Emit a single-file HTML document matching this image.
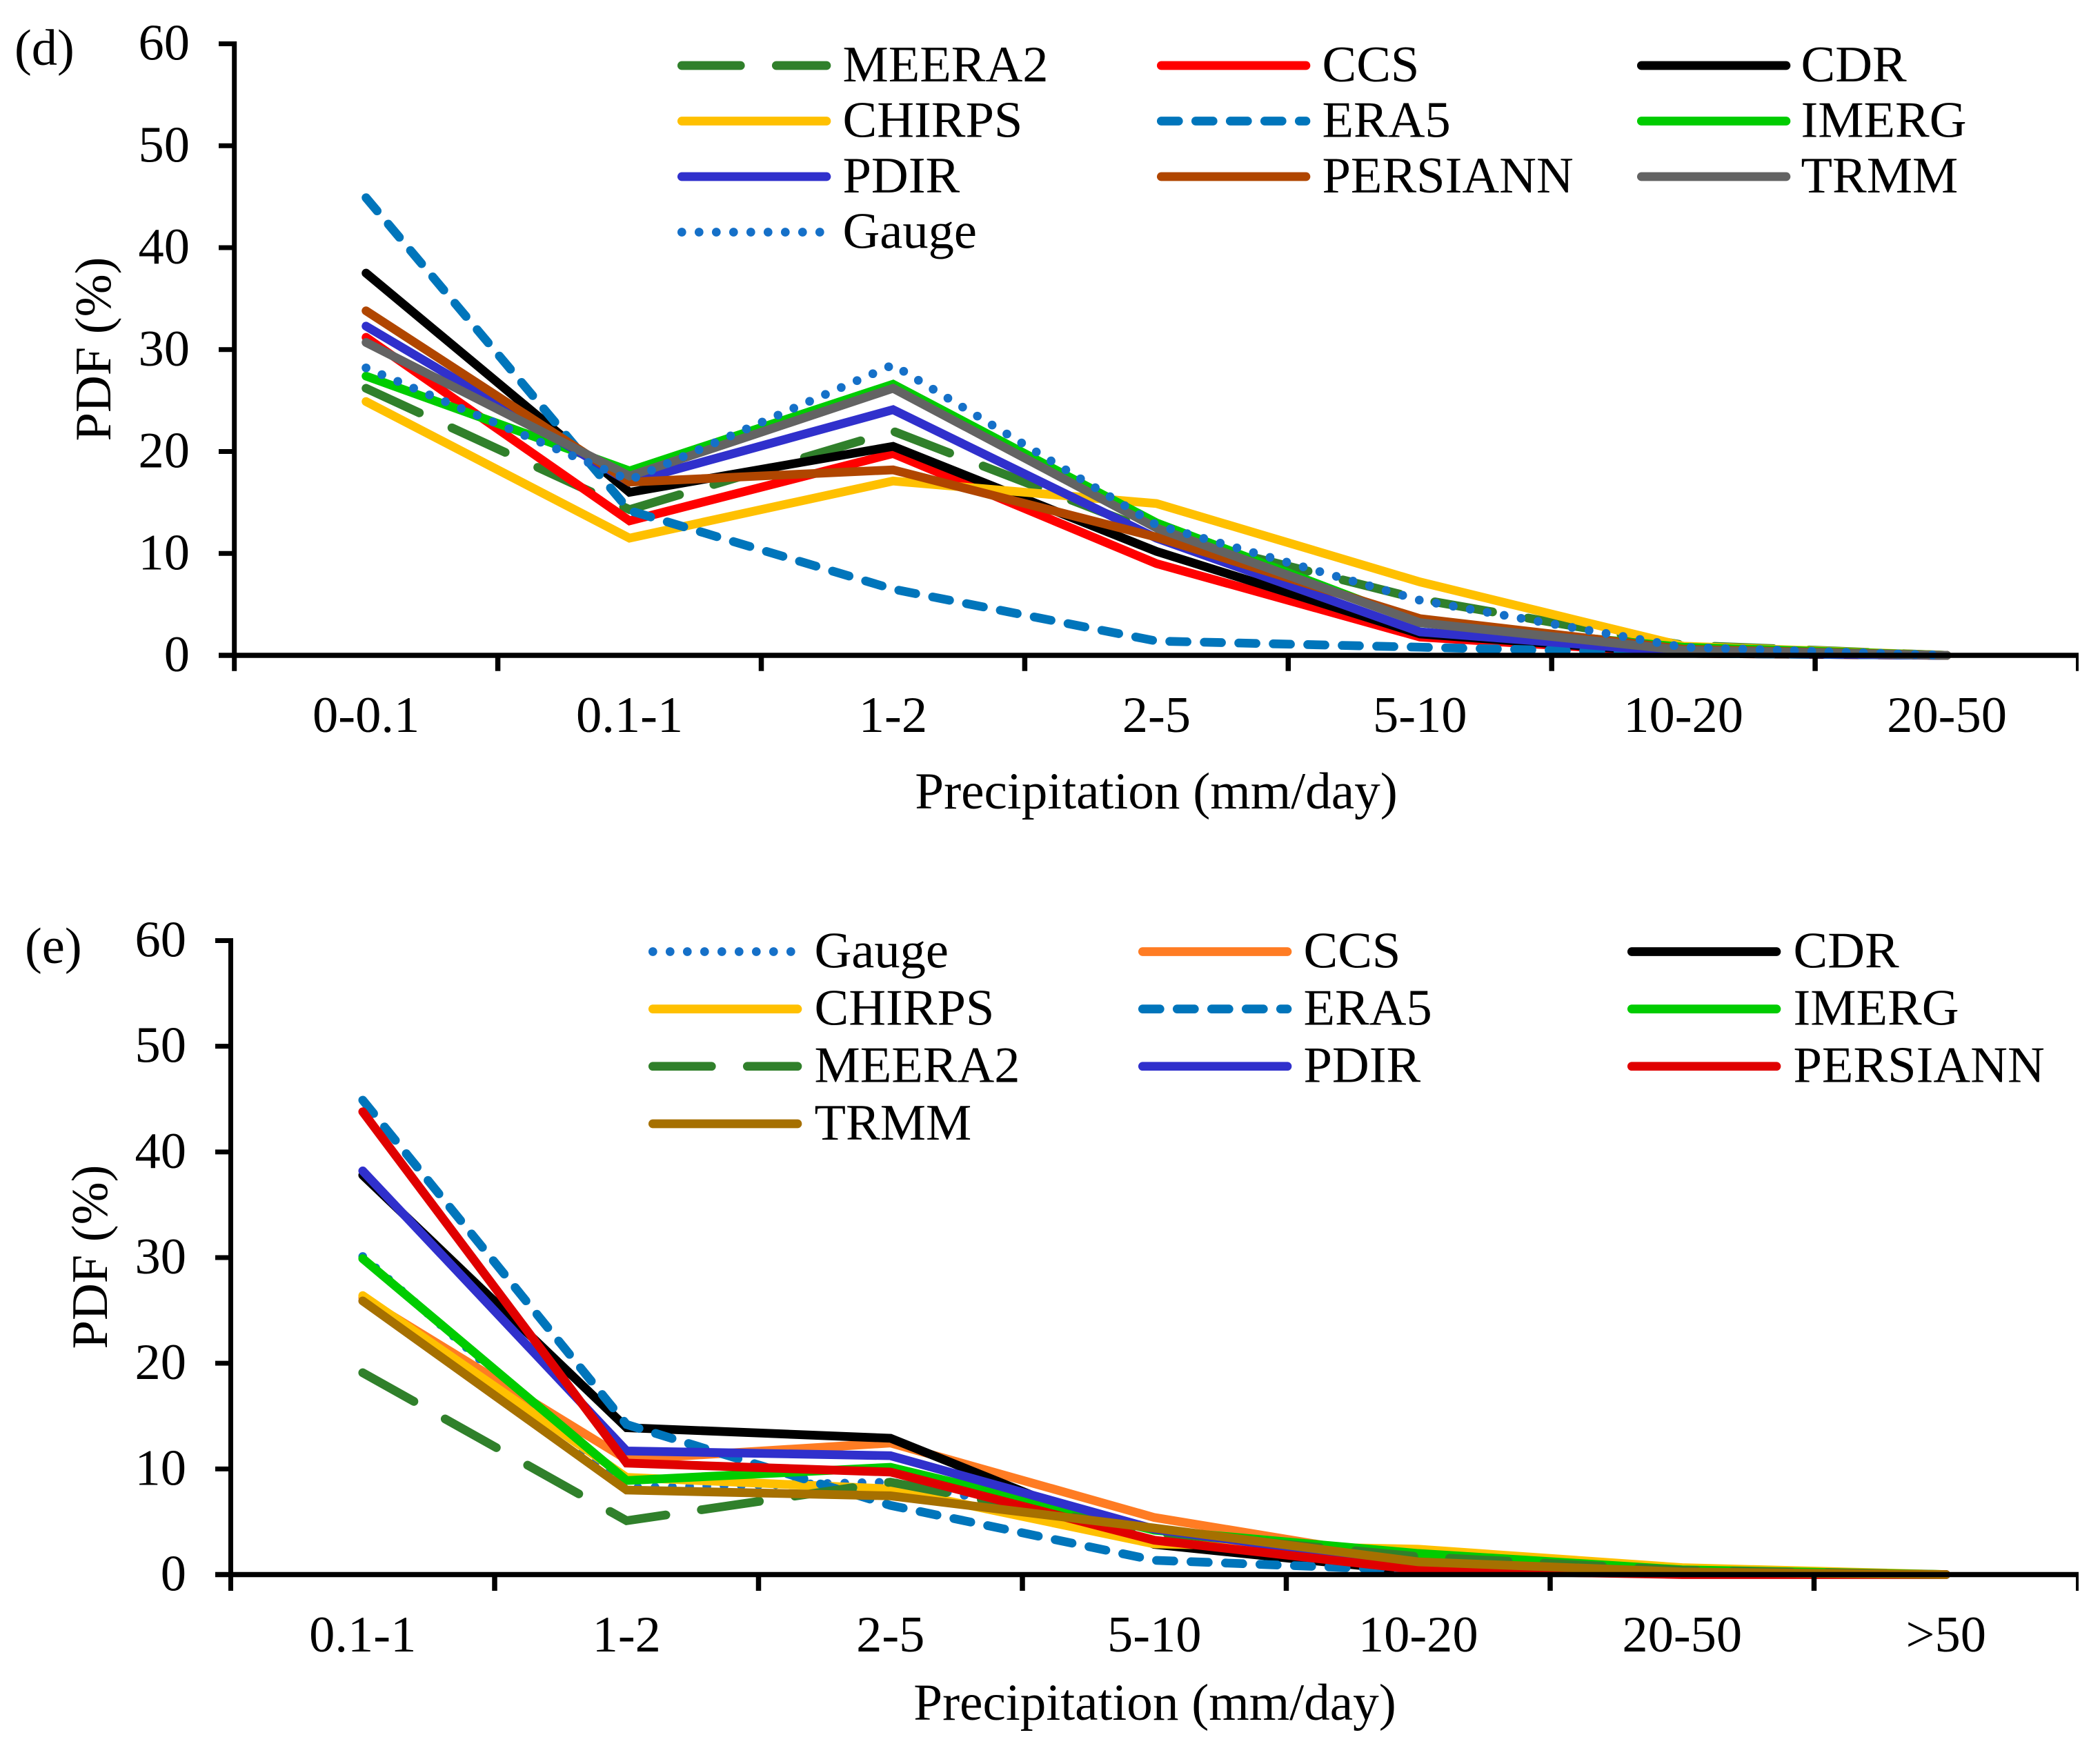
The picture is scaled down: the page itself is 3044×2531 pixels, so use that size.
<!DOCTYPE html>
<html lang="en">
<head>
<meta charset="utf-8">
<title>PDF of precipitation panels (d) and (e)</title>
<style>
html,body{margin:0;padding:0;background:#fff;}
svg{display:block;}
text{font-family:"Liberation Serif","Times New Roman",serif;fill:#000;font-size:74.5px;}
text.axis-title{font-size:75.2px;}
</style>
</head>
<body>
<svg id="chart" xmlns="http://www.w3.org/2000/svg" width="3044" height="2531" viewBox="0 0 3044 2531"></svg>
<script>
// ---------- shared tick values ----------
const yTickLabels = [0, 10, 20, 30, 40, 50, 60];

// ---------- panel (d) data ----------
const categoriesD = ["0-0.1", "0.1-1", "1-2", "2-5", "5-10", "10-20", "20-50"];
const meera2D   = [26.2, 14.3, 22.0, 12.0, 5.5, 1.0, 0];
const ccsD      = [31.2, 13.2, 19.8, 9.0, 1.8, 0.2, 0];
const cdrD      = [37.5, 16.0, 20.5, 10.2, 2.1, 0.2, 0];
const chirpsD   = [24.9, 11.5, 17.1, 14.9, 7.2, 0.9, 0];
const era5D     = [44.9, 14.2, 6.5, 1.4, 0.8, 0.2, 0];
const imergD    = [27.4, 18.1, 26.6, 13.0, 3.2, 0.8, 0];
const pdirD     = [32.3, 17.0, 24.1, 11.5, 2.3, 0.3, 0];
const persiannD = [33.8, 17.0, 18.2, 11.6, 3.6, 0.6, 0];
const trmmD     = [30.7, 17.6, 26.2, 12.5, 3.2, 0.5, 0];
const gaugeD    = [28.2, 17.2, 28.5, 12.8, 5.4, 0.8, 0];

// ---------- panel (e) data ----------
const categoriesE = ["0.1-1", "1-2", "2-5", "5-10", "10-20", "20-50", ">50"];
const gaugeE    = [30.1, 8.2, 8.75, 4.3, 1.7, 0.2, 0];
const ccsE      = [26.2, 10.9, 12.45, 5.4, 1.3, 0.1, 0];
const cdrE      = [37.8, 13.9, 12.9, 2.85, 0.3, 0.1, 0];
const chirpsE   = [26.4, 9.2, 8.1, 2.9, 2.4, 0.65, 0];
const era5E     = [44.9, 14.2, 6.55, 1.35, 0.4, 0.1, 0];
const imergE    = [29.9, 8.9, 10.15, 4.2, 2.0, 0.45, 0];
const meera2E   = [19.1, 5.1, 8.75, 4.0, 1.7, 0.4, 0];
const pdirE     = [38.2, 11.7, 11.25, 4.3, 0.9, 0.1, 0];
const persiannE = [43.8, 10.55, 9.7, 3.25, 0.45, 0, 0];
const trmmE     = [25.9, 8.0, 7.45, 4.4, 1.2, 0.25, 0];

// ---------- styles (dash patterns and colours) ----------
const LW = 12.7;
const DOT = "0 25";
const SHORT = "25 25";
const LONG = "85 52";

const svg = document.getElementById('chart');
const NS = 'http://www.w3.org/2000/svg';

function mk(tag, attrs, parent) {
  const el = document.createElementNS(NS, tag);
  for (const k in attrs) el.setAttribute(k, attrs[k]);
  parent.appendChild(el);
  return el;
}

function slug(s) { return s.toLowerCase().replace(/[^a-z0-9]+/g, '-'); }

function drawPanel(p) {
  const g = mk('g', {}, svg);
  
  

  const n = p.categories.length;
  const xTick = k => p.x0 + k * p.step;
  const xScale = i => p.x0 + (i + 0.5) * p.step;
  const yScale = v => p.y0 - v * p.unit;

  // panel label
  const lab = mk('text', {x: p.labelX, y: p.labelY}, g);
  lab.textContent = '(' + p.id + ')';
  
  

  // series
  const sg = mk('g', {fill: 'none'}, g);
  
  
  p.series.forEach(s => {
    const d = s.values.map((v, i) => (i ? 'L' : 'M') + xScale(i).toFixed(1) + ' ' + yScale(v).toFixed(1)).join(' ');
    const path = mk('path', {
      d: d, stroke: s.color, 'stroke-width': LW, 'stroke-linecap': 'round',
      'stroke-linejoin': 'miter', 'stroke-miterlimit': 6, fill: 'none'
    }, sg);
    if (s.dash) path.setAttribute('stroke-dasharray', s.dash);
    
    
  });

  // axes
  const ag = mk('g', {stroke: '#000', fill: 'none'}, g);
  
  
  const yLine = mk('line', {x1: p.x0, x2: p.x0, y1: yScale(60) - 3.5, y2: p.tickBottom, 'stroke-width': 7}, ag);
  
  
  const xLine = mk('line', {x1: p.tickLeft, x2: 3013, y1: p.y0, y2: p.y0, 'stroke-width': 7.5}, ag);
  
  

  yTickLabels.forEach(v => {
    const t = mk('line', {x1: p.tickLeft, x2: p.x0, y1: yScale(v), y2: yScale(v), 'stroke-width': 7}, ag);
    
    
    const l = mk('text', {x: p.yLabelX, y: yScale(v) + 23, 'text-anchor': 'end'}, g);
    l.textContent = String(v);
    
    
  });

  for (let k = 1; k <= n; k++) {
    const last = k === n;
    const x = last ? 3011 : xTick(k);
    const t = mk('line', {x1: x, x2: x, y1: p.y0, y2: p.tickBottom, 'stroke-width': last ? 4 : 7.5}, ag);
    
    
  }

  p.categories.forEach((c, i) => {
    const l = mk('text', {x: xScale(i), y: p.xLabelY, 'text-anchor': 'middle'}, g);
    l.textContent = c;
    
    
  });

  const xt = mk('text', {x: p.xTitleX, y: p.xTitleY, 'text-anchor': 'middle', class: 'axis-title'}, g);
  xt.textContent = 'Precipitation (mm/day)';
  
  

  const yt = mk('text', {
    'text-anchor': 'middle',
    transform: 'translate(' + p.yTitleX + ' ' + p.yTitleY + ') rotate(-90)'
  }, g);
  yt.textContent = 'PDF (%)';
  
  

  // legend (reading order, three columns)
  const lg = mk('g', {}, g);
  
  
  p.series.forEach((s, i) => {
    const col = i % 3, row = Math.floor(i / 3);
    const x = p.legendX[col], y = p.legendY[row];
    const e = mk('g', {}, lg);
    
    
    const sw = mk('line', {
      x1: x + 6.3, x2: x + 216, y1: y, y2: y, stroke: s.color,
      'stroke-width': LW, 'stroke-linecap': 'round'
    }, e);
    if (s.dash) sw.setAttribute('stroke-dasharray', s.dash);
    
    
    const tx = mk('text', {x: p.legendTextX[col], y: y + 23}, e);
    tx.textContent = s.name;
    
    
  });
}

drawPanel({
  id: 'd', categories: categoriesD,
  x0: 339.7, step: 381.9, y0: 950, unit: 14.775,
  tickLeft: 317, tickBottom: 972.7, yLabelX: 275, xLabelY: 1061,
  xTitleX: 1676, xTitleY: 1172, yTitleX: 160, yTitleY: 506,
  labelX: 21, labelY: 94,
  legendX: [982, 1677, 2373], legendTextX: [1221.5, 1916.5, 2610.5],
  legendY: [95, 175.5, 256, 336.5],
  series: [
    {name: 'MEERA2',   values: meera2D,   color: '#30802B', dash: LONG},
    {name: 'CCS',      values: ccsD,      color: '#FF0000'},
    {name: 'CDR',      values: cdrD,      color: '#000000'},
    {name: 'CHIRPS',   values: chirpsD,   color: '#FFC000'},
    {name: 'ERA5',     values: era5D,     color: '#0075BB', dash: SHORT},
    {name: 'IMERG',    values: imergD,    color: '#00CC00'},
    {name: 'PDIR',     values: pdirD,     color: '#3030CC'},
    {name: 'PERSIANN', values: persiannD, color: '#B04600'},
    {name: 'TRMM',     values: trmmD,     color: '#636363'},
    {name: 'Gauge',    values: gaugeD,    color: '#1570C8', dash: DOT}
  ]
});

drawPanel({
  id: 'e', categories: categoriesE,
  x0: 334.5, step: 382.5, y0: 2282.5, unit: 15.317,
  tickLeft: 312, tickBottom: 2306, yLabelX: 270, xLabelY: 2394,
  xTitleX: 1674, xTitleY: 2493, yTitleX: 155, yTitleY: 1822,
  labelX: 36, labelY: 1396,
  legendX: [940, 1650, 2359], legendTextX: [1180.5, 1889.5, 2599.5],
  legendY: [1379.5, 1462.6, 1545.7, 1629],
  series: [
    {name: 'Gauge',    values: gaugeE,    color: '#1570C8', dash: DOT},
    {name: 'CCS',      values: ccsE,      color: '#FF7C23'},
    {name: 'CDR',      values: cdrE,      color: '#000000'},
    {name: 'CHIRPS',   values: chirpsE,   color: '#FFC000'},
    {name: 'ERA5',     values: era5E,     color: '#0075BB', dash: SHORT},
    {name: 'IMERG',    values: imergE,    color: '#00CC00'},
    {name: 'MEERA2',   values: meera2E,   color: '#30802B', dash: LONG},
    {name: 'PDIR',     values: pdirE,     color: '#3030CC'},
    {name: 'PERSIANN', values: persiannE, color: '#E00000'},
    {name: 'TRMM',     values: trmmE,     color: '#A67000'}
  ]
});
</script>
</body>
</html>
